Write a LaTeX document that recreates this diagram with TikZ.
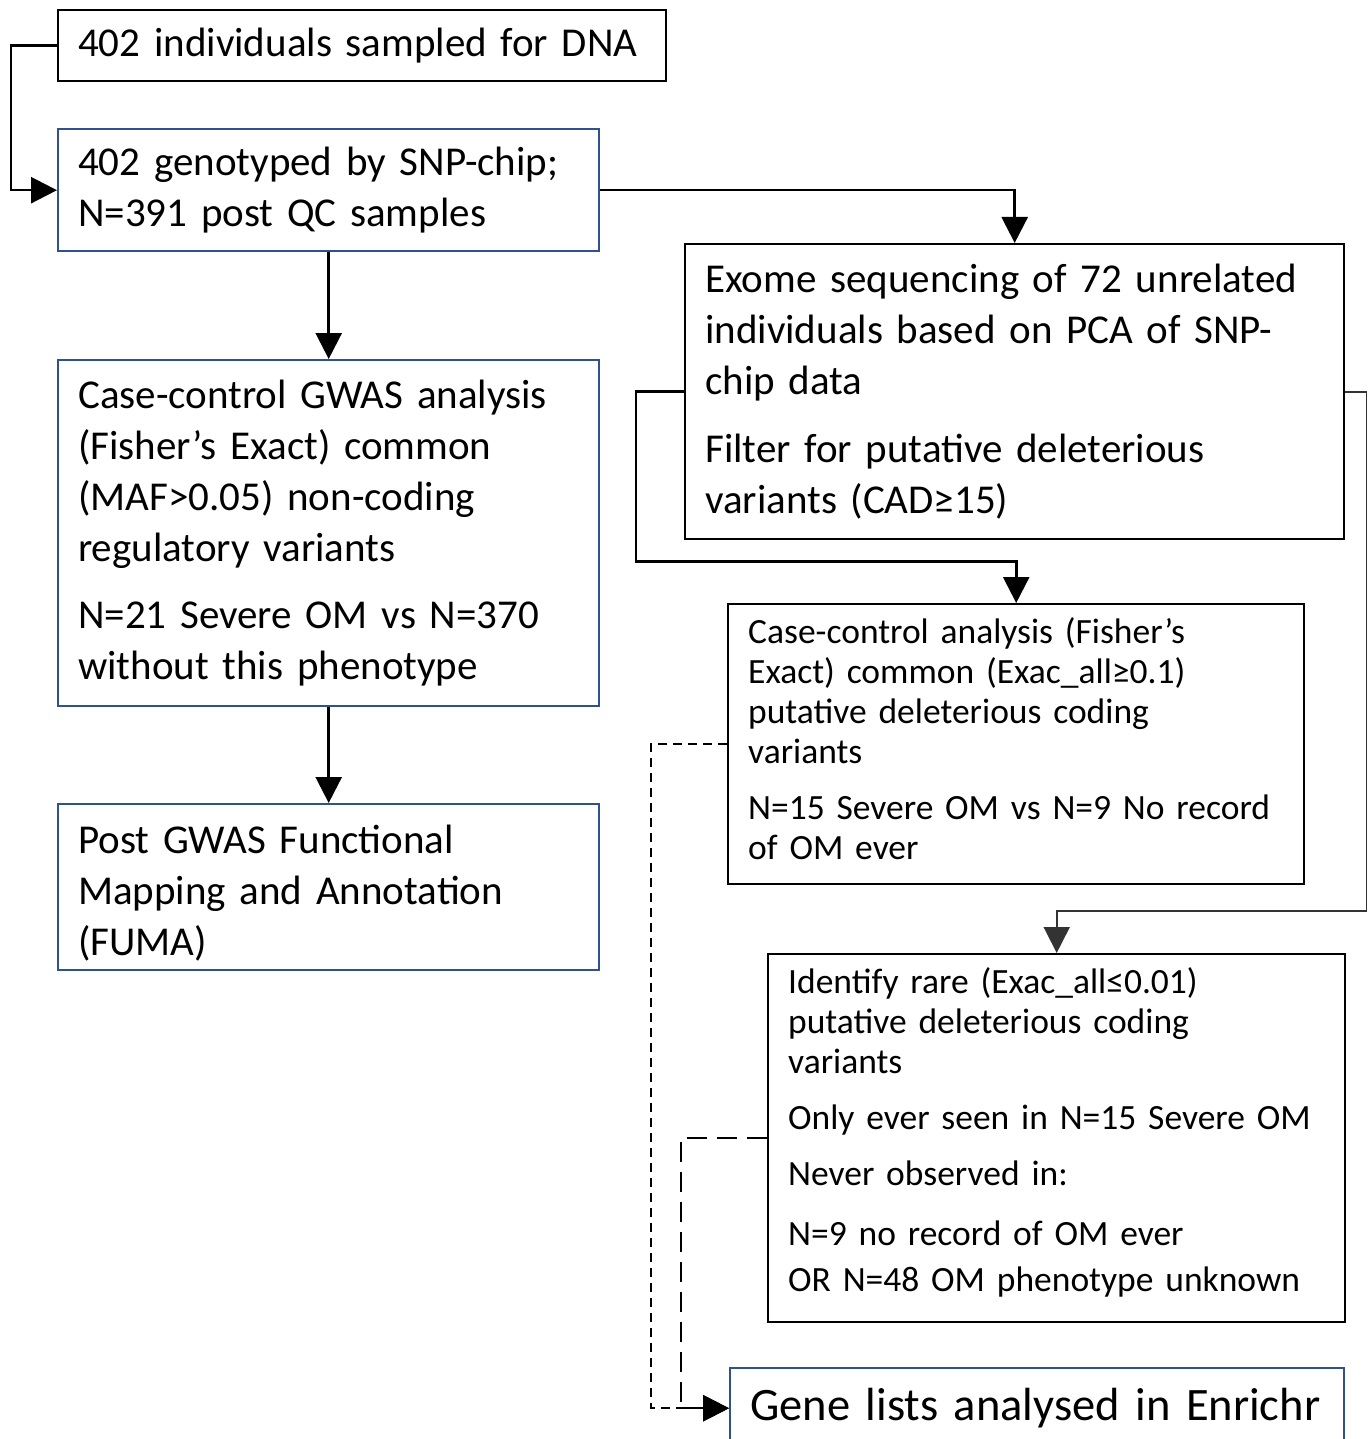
\documentclass[tikz,border=0pt]{standalone}
\usepackage{fontspec}
\setmainfont{Carlito}
\usetikzlibrary{arrows.meta}
\definecolor{boxblue}{HTML}{2F528F}
\newcommand\fsbig{\fontsize{41}{51}\selectfont}
\newcommand\fssmall{\fontsize{35.5}{40}\selectfont}
\newcommand\fshuge{\fontsize{46.5}{54}\selectfont}
\newcommand\liftbox[3]{\raisebox{#1}[\height][\depth]{\parbox{#2}{\raggedright #3}}}
\begin{document}
\begin{tikzpicture}[x=1pt,y=-1pt,
  box/.style={draw=black,line width=2.4pt,rectangle,anchor=north west,align=left,
    inner xsep=20pt,inner ysep=0pt,font=\fsbig},
  bluebox/.style={box,draw=boxblue},
  tip/.style={-{Triangle[length=26pt,width=26pt]}},
  conn/.style={line width=2.6pt,tip},
  thinconn/.style={line width=1.8pt,draw=black!80,tip},
  dconnA/.style={line width=2.3pt,dash pattern=on 9pt off 6pt,tip},
  dconnB/.style={line width=2.5pt,dash pattern=on 20pt off 10pt,tip}
]
\useasboundingbox (0,0) rectangle (1367,1439);
\hyphenpenalty=10000
\node[box,text width=568pt,minimum height=71pt] (A) at (57,9) {402 individuals sampled for DNA};
\node[bluebox,text width=501pt,minimum height=122pt] (B) at (57,128) {402 genotyped by SNP-chip;\\N=391 post QC samples};
\node[bluebox,text width=501pt,minimum height=346pt] (C) at (57,359) {Case-control GWAS analysis\\(Fisher’s Exact) common\\(MAF>0.05) non-coding\\regulatory variants\\[16pt]N=21 Severe OM vs N=370\\without this phenotype};
\node[bluebox,text width=501pt,minimum height=166pt] (D) at (57,803) {\liftbox{-6pt}{501pt}{Post GWAS Functional\\Mapping and Annotation\\(FUMA)}};
\node[box,text width=619pt,minimum height=295pt] (E) at (684,243) {Exome sequencing of 72 unrelated\\individuals based on PCA of SNP-\\chip data\\[17pt]Filter for putative deleterious\\variants (CAD≥15)};
\node[box,font=\fssmall,text width=536pt,minimum height=280pt] (F) at (727,603) {\liftbox{6pt}{536pt}{Case-control analysis (Fisher’s\\Exact) common (Exac\_all≥0.1)\\putative deleterious coding\\variants\\[16pt]N=15 Severe OM vs N=9 No record\\of OM ever}};
\node[box,font=\fssmall,text width=537pt,minimum height=368pt] (G) at (767,953) {\liftbox{6pt}{537pt}{Identify rare (Exac\_all≤0.01)\\putative deleterious coding\\variants\\[16pt]Only ever seen in N=15 Severe OM\\[16pt]Never observed in:\\[20pt]N=9 no record of OM ever\\[6pt]OR N=48 OM phenotype unknown}};
\node[bluebox,font=\fshuge,text width=574pt,minimum height=80pt] (H) at (729,1367) {Gene lists analysed in Enrichr};

\draw[conn] (A.west) -- ++(-46,0) |- (B.west);
\draw[conn] (B.east) -| (E.north);
\draw[conn] (B.south) -- (C.north);
\draw[conn] (C.south) -- (D.north);
\draw[conn] (E.west) -- ++(-48,0) -- ++(0,169.5) -| (F.north);
\draw[thinconn] (E.east) -- ++(21,0) -- ++(0,519.5) -| (G.north);
\draw[dconnA] (F.west) -- ++(-76,0) |- (H.west);
\draw[dconnB] (G.west) -- ++(-86,0) |- (H.west);
\end{tikzpicture}
\end{document}
